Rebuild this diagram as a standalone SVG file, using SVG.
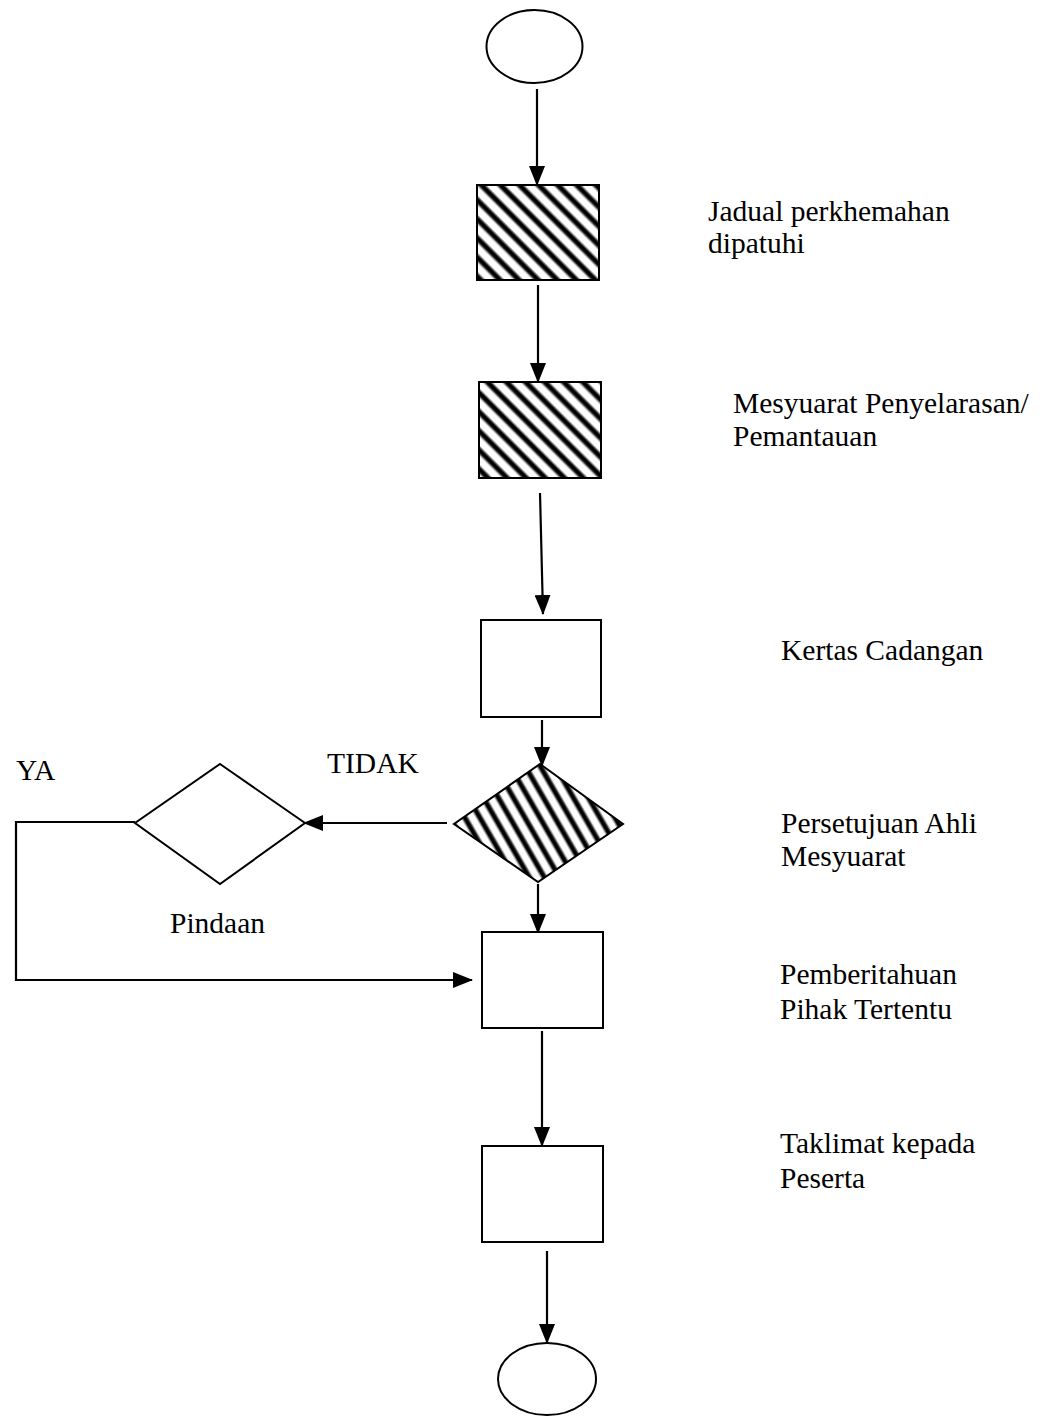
<svg xmlns="http://www.w3.org/2000/svg" width="1048" height="1416" viewBox="0 0 1048 1416">
  <style>
    .shape { stroke: #000; stroke-width: 2; fill: #fff; }
    .hatch { stroke: #000; stroke-width: 2; fill: url(#stripes); }
    .hatch-d { stroke: #000; stroke-width: 2; fill: url(#stripesSteep); }
    .wire { stroke: #000; stroke-width: 2.2; fill: none; }
    .arrow { marker-end: url(#head); }
    text { font-family: "Liberation Serif", "Times New Roman", serif; font-size: 29.5px; fill: #000; }
  </style>
  <defs>
    <linearGradient id="band" x1="0" y1="0" x2="1" y2="0">
      <stop offset="0" stop-color="#fff"/>
      <stop offset="0.22" stop-color="#fff"/>
      <stop offset="0.42" stop-color="#000"/>
      <stop offset="0.62" stop-color="#000"/>
      <stop offset="0.82" stop-color="#fff"/>
      <stop offset="1" stop-color="#fff"/>
    </linearGradient>
    <pattern id="stripes" patternUnits="userSpaceOnUse" width="13.5" height="40" patternTransform="rotate(-45)">
      <rect width="13.5" height="40" fill="url(#band)"/>
    </pattern>
    <pattern id="stripesSteep" patternUnits="userSpaceOnUse" width="13" height="40" patternTransform="rotate(-30)">
      <rect width="13" height="40" fill="url(#band)"/>
    </pattern>
    <marker id="head" viewBox="0 0 20 16" markerUnits="userSpaceOnUse" markerWidth="20" markerHeight="16" refX="19" refY="8" orient="auto">
      <path d="M0,0 L20,8 L0,16 z" fill="#000"/>
    </marker>
  </defs>

  <!-- connectors -->
  <g id="connectors">
    <line class="wire arrow" x1="537" y1="89" x2="537" y2="185"/>
    <line class="wire arrow" x1="538" y1="285" x2="538" y2="382"/>
    <line class="wire arrow" x1="540" y1="493" x2="543" y2="614"/>
    <line class="wire arrow" x1="542" y1="720" x2="542" y2="766"/>
    <line class="wire arrow" x1="447" y1="823" x2="304" y2="823"/>
    <line class="wire arrow" x1="538" y1="884" x2="538" y2="933"/>
    <polyline class="wire arrow" points="135,822 16,822 16,980 472,980"/>
    <line class="wire arrow" x1="542" y1="1031" x2="542" y2="1146"/>
    <line class="wire arrow" x1="547" y1="1251" x2="547" y2="1343"/>
  </g>

  <g id="start">
    <ellipse class="shape" cx="534.5" cy="46.5" rx="48" ry="36.5"/>
  </g>

  <g id="jadual">
    <rect class="hatch" x="477" y="185" width="122" height="95"/>
    <text x="708" y="221">Jadual perkhemahan</text>
    <text x="708" y="253">dipatuhi</text>
  </g>

  <g id="mesyuarat">
    <rect class="hatch" x="479" y="382" width="122" height="96"/>
    <text x="733" y="413">Mesyuarat Penyelarasan/</text>
    <text x="733" y="446">Pemantauan</text>
  </g>

  <g id="kertas">
    <rect class="shape" x="481" y="620" width="120" height="97"/>
    <text x="781" y="660">Kertas Cadangan</text>
  </g>

  <g id="persetujuan">
    <polygon class="hatch-d" points="540,764 623,824 538,882 454,824"/>
    <text x="781" y="833">Persetujuan Ahli</text>
    <text x="781" y="866">Mesyuarat</text>
  </g>

  <g id="pindaan">
    <polygon class="shape" points="220,764 305,823 220,884 135,823"/>
    <text x="170" y="933">Pindaan</text>
  </g>

  <g id="labels">
    <text x="16" y="780">YA</text>
    <text x="327" y="773">TIDAK</text>
  </g>

  <g id="pemberitahuan">
    <rect class="shape" x="482" y="932" width="121" height="96"/>
    <text x="780" y="984">Pemberitahuan</text>
    <text x="780" y="1019">Pihak Tertentu</text>
  </g>

  <g id="taklimat">
    <rect class="shape" x="482" y="1146" width="121" height="96"/>
    <text x="780" y="1153">Taklimat kepada</text>
    <text x="780" y="1188">Peserta</text>
  </g>

  <g id="end">
    <ellipse class="shape" cx="547" cy="1379" rx="49" ry="36"/>
  </g>
</svg>
